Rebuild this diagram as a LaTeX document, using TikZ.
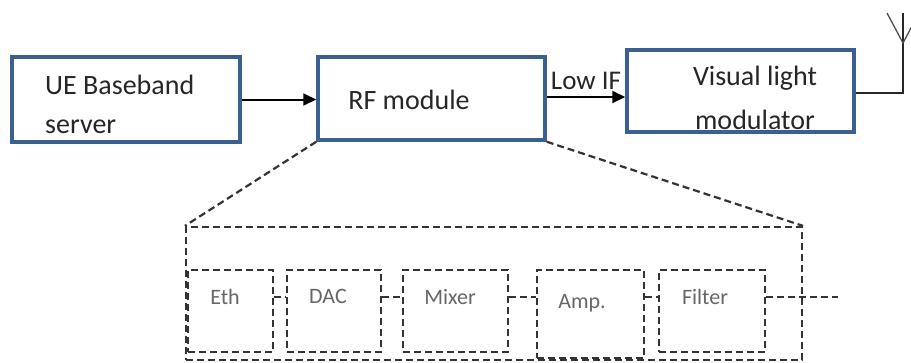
\documentclass[tikz,border=0pt]{standalone}
\usepackage{fontspec}
\setmainfont{Carlito}
\usetikzlibrary{arrows.meta}
\definecolor{boxblue}{HTML}{3A5F91}
\begin{document}
\begin{tikzpicture}[x=1pt,y=-1pt]
\tikzstyle{block}=[draw=boxblue, line width=3.5pt, minimum width=228pt, minimum height=85pt, inner sep=0pt]
\tikzstyle{part}=[draw=black!80, dash pattern=on 7pt off 4pt, line width=2.2pt, minimum width=86pt, minimum height=82pt, inner sep=0pt]
\tikzstyle{btxt}=[font=\fontsize{28}{30}\selectfont, text=black!85, inner sep=0pt]
\tikzstyle{ptxt}=[font=\fontsize{22}{24}\selectfont, text=black!60, inner sep=0pt]
\tikzstyle{link}=[draw=black!80, dash pattern=on 7pt off 4pt, line width=2.2pt]
\tikzstyle{arrow}=[line width=2pt, -{Triangle[length=13pt,width=12pt]}]
    \useasboundingbox (0,0) rectangle (911,362);

    % top row
    \node[block] (ue) at (126,99.5) {};
    \node[block, minimum width=227pt, minimum height=83pt] (rf) at (431.5,98.5) {};
    \node[block, minimum width=227pt, minimum height=82pt] (vlm) at (740.5,91) {};

    \node[btxt, anchor=west] (ue1) at (45,85) {UE Baseband};
    \node[btxt, anchor=west] (ue2) at (45,127) {server};
    \node[btxt] (rf1) at (409,100) {RF module};
    \node[btxt] (vlm1) at (755,78) {Visual light};
    \node[btxt] (vlm2) at (755,120) {modulator};

    \draw[arrow] (ue.east) -- (ue.east -| rf.west);
    \draw[arrow] (rf.east |- 0,97) -- (vlm.west |- 0,97)
        node[midway, above=6pt, btxt, font=\fontsize{27}{29}\selectfont] (lowif) {Low IF};

    % antenna
    \coordinate (ant) at (903,43);
    \coordinate (antl) at (887,13);
    \coordinate (antr) at (919,13);
    \coordinate (antt) at (903,13);
    \draw[line width=1.6pt, black!85] (vlm.east |- 0,93) -- (903,93) -- (antt);
    \begin{scope}
    \clip (860,0) rectangle (911,60);
    \draw[line width=1.3pt, black!70] (antl) -- (ant) -- (antr);
    \end{scope}

    % inside of the RF module
    \node[link, minimum width=616pt, minimum height=133pt, inner sep=0pt] (rfin) at (494,293.5) {};
    \draw[link] (rf.south west) -- (rfin.north west);
    \draw[link] (rf.south east) -- (rfin.north east);

    \node[part, minimum width=85pt] (eth) at (230.5,311) {};
    \node[part, minimum width=94pt] (dac) at (334,311) {};
    \node[part, minimum width=105pt] (mix) at (455.5,311) {};
    \node[part, minimum width=107pt, minimum height=88pt] (amp) at (590.5,314) {};
    \node[part, minimum width=106pt] (filt) at (712,311) {};

    \node[ptxt] (etht) at (225,297) {Eth};
    \node[ptxt] (dact) at (328,296) {DAC};
    \node[ptxt] (mixt) at (450,297) {Mixer};
    \node[ptxt] (ampt) at (582,303) {Amp.};
    \node[ptxt] (filtt) at (705,297) {Filter};

    \coordinate (row) at (0,297);
    \coordinate (out) at (838,297);
    \draw[link] (eth.east |- row) -- (dac.west |- row);
    \draw[link] (dac.east |- row) -- (mix.west |- row);
    \draw[link] (mix.east |- row) -- (amp.west |- row);
    \draw[link] (amp.east |- row) -- (filt.west |- row);
    \draw[link] (filt.east |- row) -- (out);

\end{tikzpicture}
\end{document}
